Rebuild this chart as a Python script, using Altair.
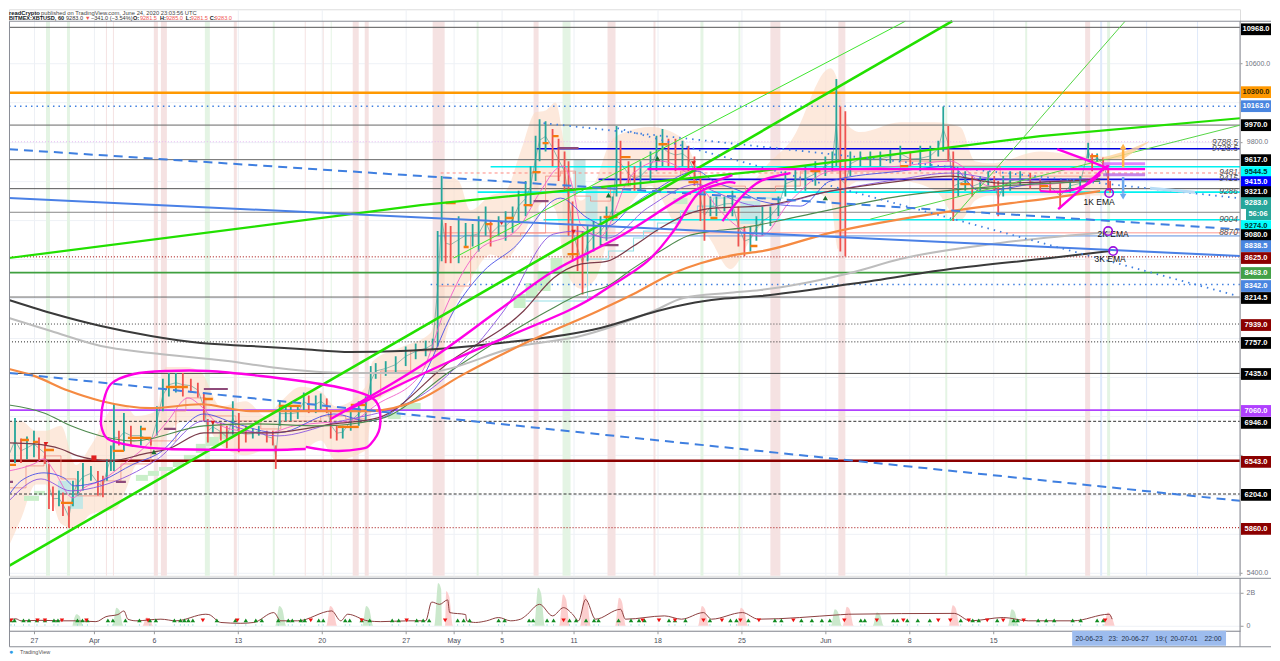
import json
import altair as alt
import pandas as pd

# ---------- axes ----------
tick_hours = [0, 120, 240, 408, 576, 744, 840, 936, 1080, 1248, 1416, 1584, 1752, 1920]
tick_labels = ["27", "Apr", "6", "13", "20", "27", "May", "5", "11", "18", "25", "Jun", "8", "15"]
price_ticks = list(range(5400, 11000, 200))
price_labelled = [5400, 5600, 6000, 6400, 6800, 7200, 7600, 9800, 10400, 10600, 10800]

# ---------- price bars (hours since 27 Mar 00:00) ----------
bar_hour = [-50,-38,-26,-14,0,10,22,30,38,50,58,70,78,88,98,114,128,138,146,154,160,170,180,194,214,234,246,258,270,284,298,314,328,340,348,358,374,386,398,410,424,438,450,466,478,484,492,504,514,528,540,550,564,574,586,594,606,618,634,650,664,674,684,704,724,744,764,784,798,808,816,824,834,850,864,878,890,904,914,930,944,958,970,984,994,1004,1012,1024,1038,1050,1062,1070,1078,1088,1098,1108,1120,1134,1146,1158,1166,1174,1190,1202,1214,1234,1246,1258,1270,1284,1298,1310,1322,1334,1342,1354,1366,1382,1398,1410,1422,1434,1446,1458,1474,1490,1504,1524,1544,1564,1584,1598,1606,1614,1624,1634,1654,1674,1694,1714,1734,1754,1774,1794,1810,1820,1830,1840,1850,1864,1878,1894,1910,1922,1930,1940,1954,1974,1994,2014,2034,2054,2074,2094,2110,2118,2128,2140,2150,2154]
bar_high = [6770,6980,6770,6790,6850,6780,6730,6510,6280,6240,6220,6080,6340,6440,6520,6490,6440,6390,6560,6700,7130,6850,7030,6900,6900,6780,7100,7380,7440,7440,7440,7380,7340,7240,6970,6950,6930,6900,7150,7030,6900,6870,6900,6850,6850,6700,7150,7100,7100,7100,7240,7210,7210,7230,7180,7050,6900,6900,7050,7150,7200,7510,7540,7560,7610,7710,7740,7770,7790,8890,9450,8970,8940,9040,8970,8960,9040,9140,8990,9040,9090,9140,9300,9400,9550,9860,10030,10010,9930,9830,9700,9600,9190,8940,8890,8940,8990,9040,9140,9240,9960,9810,9600,9550,9600,9700,9860,9930,9830,9830,9810,9760,9650,9450,9300,9240,9240,9240,9300,9140,8940,8940,9040,9140,9140,9240,9500,9520,9550,9600,9650,9700,10440,10160,10110,9700,9700,9700,9700,9720,9760,9700,9760,9760,9810,10160,9960,9700,9500,9500,9450,9450,9500,9450,9400,9450,9500,9500,9480,9420,9400,9380,9420,9450,9790,9680,9680,9640,9530,9400]
bar_low = [6440,6520,6520,6560,6580,6560,6510,6050,6030,6080,5980,5860,6080,6190,6240,6340,6190,6170,6340,6440,6440,6700,6640,6700,6700,6700,6800,7050,7200,7240,7200,7240,7190,6950,6730,6830,6750,6670,6810,6630,6730,6770,6800,6730,6700,6460,6900,6950,6950,6970,7050,7030,7030,7070,7030,6770,6750,6770,6850,6900,6950,7200,7380,7410,7440,7510,7580,7610,7670,7710,8580,8560,8560,8560,8720,8730,8680,8840,8730,8840,8790,8870,8990,9040,9140,9400,9600,9700,9550,9400,9300,8840,8580,8480,8240,8580,8680,8730,8790,8990,9240,9350,9350,9300,9300,9400,9500,9550,9550,9500,9550,9500,9350,8990,8790,9040,9040,9090,9040,8730,8630,8680,8790,8840,8940,9040,9240,9300,9300,9350,9450,9500,9550,8680,8630,9450,9550,9550,9550,9580,9600,9550,9500,9550,9650,9700,9600,8990,9240,9300,9240,9300,9350,9300,9040,9240,9300,9350,9320,9300,9280,9120,9280,9300,9630,9500,9600,9500,9300,9280]

# ---------- moving averages ----------
orange_h = [-50,0,68,134,234,334,434,568,668,774,854,994,1128,1200,1280,1334,1408,1454,1594,1834,2034,2134]
orange_p = [7480,7410,7260,7154,7080,7120,7050,7050,7050,7175,7410,7770,8070,8245,8460,8560,8650,8680,8870,9090,9225,9296]
gray_h = [-50,34,134,234,388,488,620,774,974,1094,1240,1300,1388,1454,1634,1734,1934,2154]
gray_p = [8000,7868,7715,7644,7562,7490,7440,7440,7715,7817,8072,8205,8256,8286,8460,8603,8766,8878]
black_h = [-50,34,134,234,334,434,534,634,734,834,934,1134,1248,1308,1374,1454,1634,1834,2034,2154]
black_p = [8185,8052,7919,7817,7745,7715,7684,7654,7664,7695,7745,7899,8072,8143,8194,8225,8347,8500,8613,8684]
dgreen_h = [-50,20,74,134,200,340,440,574,692,834,1028,1094,1148,1200,1254,1308,1360,1414,1534,1734,1934,2134]
dgreen_p = [7113,7032,6900,6797,6746,6900,6920,6900,6970,7460,8072,8245,8327,8510,8684,8837,8888,8918,9041,9245,9347,9398]
maroon_h = [-50,0,54,88,154,220,268,340,468,600,688,834,980,1040,1094,1148,1200,1254,1308,1360,1454,1594,1734,1834,1934,2134]
maroon_p = [6726,6715,6664,6593,6542,6613,6664,6828,6828,6920,6981,7562,8072,8409,8551,8582,8735,8919,9061,9123,9143,9296,9398,9449,9378,9418]
blue_h = [-50,-26,20,60,80,134,200,248,340,400,488,600,668,774,840,900,960,1054,1108,1148,1200,1240,1328,1360,1414,1454,1534,1594,1734,1834,1894,2034,2134]
blue_p = [6195,6338,6420,6369,6287,6338,6511,6613,7021,6930,6828,7021,6950,7358,8072,8480,8715,9225,9021,8939,9163,9296,9500,9398,9296,9194,9143,9398,9500,9551,9296,9398,9418]
purple_h = [-50,14,74,134,248,340,488,600,774,940,1040,1088,1148,1228,1328,1360,1454,1594,1734,1834,1934,2134]
purple_p = [6134,6358,6236,6287,6563,6950,6797,6930,7205,8072,8857,8888,8817,9123,9367,9296,9143,9296,9418,9480,9418,9398]
pink_h = [-50,0,20,40,78,100,134,180,220,268,308,334,368,414,468,520,574,634,688,774,824,860,888,968,1014,1048,1060,1080,1094,1134,1194,1254,1334,1374,1454,1514,1594,1734,1834,1914,2034,2134]
pink_p = [6440,6512,6563,6440,6165,6267,6338,6511,6675,6950,7185,7103,6920,6848,6828,6899,6930,6950,7123,7429,8103,8480,8684,8908,9296,9531,9551,9296,8959,8837,9449,9602,9347,9092,8837,9194,9500,9551,9602,9347,9367,9449]
redstep_h = [-50,-16,20,54,84,134,174,234,284,304,344,404,454,494,574,624,664,694,754,808,874,974,1024,1054,1084,1114,1154,1194,1294,1334,1424,1484,1534,1734,1834,1934,2134]
redstep_p = [6267,6491,6593,6358,6185,6338,6511,6746,7052,7185,7001,6950,6868,6950,7001,6970,7205,7460,7664,8327,8837,8868,9449,9500,9245,9194,9347,9449,9500,9347,9296,9347,9500,9602,9551,9449,9500]
cyanstep_h = [984,1108,1150,1200,1220,1248,1294,1328,1360,1500]
cyanstep_p = [8174,8602,8684,8817,8888,8970,9092,9143,9225,9225]

# ---------- pale cloud ----------
cloud_h = [-50,-26,4,24,54,84,114,164,184,204,244,264,304,334,374,424,464,494,534,574,604,664,678,734,794,804,824,850,874,914,944,974,1004,1024,1044,1064,1094,1124,1154,1184,1234,1294,1344,1394,1434,1474,1514,1594,1610,1624,1654,1734,1804,1854,1884,1914,2014,2114,2154]
cloud_t = [6950,6950,6850,6850,6900,6500,6700,7100,7100,7000,7050,7500,7500,7450,7100,7150,7000,7150,7300,7250,7100,7300,7560,7700,7850,8100,9450,9400,9100,9250,9300,9700,10100,10120,10200,9700,9200,9400,9800,9900,9950,9850,9450,9400,9400,9600,9800,10550,10400,10000,9900,10000,10000,9950,9600,9580,9700,9650,9650]
cloud_b = [5675,5950,6300,6300,5900,5850,6000,6050,6250,6500,6600,6800,6950,6950,6700,6600,6650,6650,6650,6750,6550,6650,7100,7300,7500,7300,7800,8200,8400,8650,8600,8800,9100,9200,9100,8500,8300,8400,8900,9100,9350,8900,8850,8500,8800,9050,9350,9200,8700,9300,9400,9400,9300,9000,9200,9250,9250,9250,9250]

# ---------- pale boxes ----------
gbox_h0 = [-20,0,204,228,250,278,300,324,344,370,708,734,960,984,1008,1034,1280]
gbox_h1 = [10,22,228,250,278,300,324,344,370,398,734,774,984,1008,1034,1058,1308]
gbox_top = [6185,6236,6399,6440,6480,6532,6603,6716,6787,6848,7032,7134,8245,8358,8480,8612,9225]
gbox_bot = [6134,6195,6338,6389,6440,6480,6540,6624,6695,6766,6970,7052,8103,8204,8276,8449,9163]
tbox_h0 = [48,74,1080,1104,1414]
tbox_h1 = [74,98,1104,1128,1454]
tbox_top = [6338,6205,9622,9326,9194]
tbox_bot = [6205,6052,9326,8960,8960]

# ---------- background bands ----------
band_h0 = [24,66,144,158,240,254,342,400,478,542,578,594,638,662,798,886,1000,1058,1148,1240,1334,1410,1474,1610,1824,1984,2104,2148,2134,2226,2328]
band_h1 = [32,72,146,160,248,266,352,406,482,544,580,596,650,670,822,890,1010,1074,1164,1244,1340,1414,1494,1624,1828,1988,2114,2154,2138,2228,2330]
band_c = ["g","g","r","r","r","r","g","r","g","r","r","g","r","r","r","g","r","g","r","r","g","g","r","r","g","g","r","g","b","b","b"]
band_colors = {"r": "#f5e2e2", "g": "#e4f4e4", "b": "#dfe9fa"}

# ---------- horizontal levels ----------
level_value = [10968,10300,10163,9970,9800,9728.5,9617,9544.5,9481,9415,9321,9286,9080,9004,8870,8838.5,8625,8463,8342,8214.5,7939,7757,7435,7060,6946,6543,6204,5860]
level_start = [-50,-50,-50,-50,-50,1006,-50,914,814,1130,-50,888,-50,1020,814,808,-50,-50,794,-50,-50,-50,-50,-50,-50,-50,-50,-50]
level_color = ["#555555","#ff9800","#3f7fe0","#666666","#e6b8f2","#0000e0","#666666","#00f0f0","#ff8a80","#1010e0","#555555","#00f0f0","#888888","#00f0f0","#ff9a90","#5b8fe0","#a00000","#3f9f3f","#3f7fe0","#666666","#444444","#222222","#444444","#b040ff","#333333","#8b0000","#333333","#a00000"]
level_width = [1,2.5,1.6,1,1,1.7,1,1.7,1,1.7,1,1.6,1,1.5,1,1,1,1.7,1.6,1,1,1,1,1.7,1,2.6,1,1]
level_dash = [None,None,[1.5,4],None,[1,2],None,None,None,[3,3],None,None,None,None,None,None,None,[1,2],None,[1.5,4],None,[1,2],[1,2],None,None,[3,2],None,[3,2],[1,2]]

# ---------- trend lines ----------
trend_sets = [
    ([-50,1838],[5471,11030],"#22e000",2.6,None),
    ([840,1744],[8613,11030],"#3fe52f",1,None),
    ([-50,774,1454,2014,2414],[8613,9153,9500,9857,10040],"#22e000",2.2,None),
    ([1834,2184],[8990,11030],"#55d545",1,None),
    ([1674,2414],[9010,9969],"#55d545",1,None),
    ([-50,2414],[9724,8905],"#3f7fe0",2,[9,6]),
    ([-50,2414],[7440,6134],"#3f7fe0",2,[9,6]),
    ([-50,2414],[9225,8633],"#4a80e6",2,None),
    ([1020,2410],[9990,9225],"#3f7fe0",1.8,[1.5,5]),
    ([1168,2410],[9939,8225],"#3f7fe0",1.8,[1.5,5]),
]

# ---------- hand-drawn magenta ----------
magenta_sets = [
    ([134,138,154,200,268,348,454,574,654,688,692,674,654,600,544],[6919,7123,7327,7429,7460,7460,7409,7327,7236,7123,6879,6715,6664,6644,6685]),
    ([134,148,200,268,414,480,544],[6919,6766,6695,6664,6654,6654,6664]),
    ([594,774,928,1040,1174,1308,1398],[6970,7511,8072,8480,8837,9265,9459]),
    ([624,834,1068,1148,1228,1280,1328,1380,1404],[7052,7562,8072,8307,8582,8888,9265,9378,9378]),
    ([1378,1414,1454,1514],[8990,9225,9398,9480]),
    ([1228,2224],[9520,9520]),
    ([2048,2138,2140,2050],[9724,9551,9520,9112]),
    ([2014,2068,2108,2134],[9296,9296,9367,9470]),
]

# ---------- short markers ----------
ostub_h0 = [-50,-26,-2,20,54,158,214,188,264,340,490,608,634,824,860,904,944,980,998,1018,1038,1174,1068,1140,1250,1310,1354,1434,1554,1734,1854,2014,2114]
ostub_h1 = [-36,-10,8,40,78,180,224,234,308,358,534,650,664,844,870,918,960,998,1014,1030,1050,1194,1090,1168,1268,1330,1368,1448,1574,1750,1874,2030,2130]
ostub_p = [6501,6756,6736,6654,6114,6644,6868,6777,7297,7174,7103,6889,7113,9174,8725,8959,9021,9153,9490,9786,9857,9643,8653,9031,9775,9388,9021,8735,9500,9551,9367,9347,9653]
mstub_h0 = [-50,164,260,340,1000,1048,1134]
mstub_h1 = [-42,184,284,388,1030,1090,1170]
mstub_p = [6328,6328,6868,7276,9194,9735,8745]
sig_up_h = [240,1150,1248,1584]
sig_up_p = [6634,9255,9630,9225]
sig_dn_h = [24,358,936,1080,1320]
sig_dn_p = [6715,6930,8970,8880,9580]
sig_sq_h = [120]
sig_sq_p = [6572]

# ---------- notes on the chart ----------
note_text = ["9788.5","9728.5","9481","9415","9286","9004","8870"]
note_price = [9788.5,9728.5,9481,9415,9286,9004,8870]
ema_text = ["1K EMA","2K EMA","3K EMA"]
ema_h = [2132,2160,2154]
ema_p = [9184,8857,8602]
ring_h = [2152,2150,2160]
ring_p = [9276,8888,8684]

# ---------- price tags ----------
tag_text = ["10968.0","10300.0","10163.0","9970.0","9617.0","9544.5","9415.0","9321.0","9283.0","9274.0","9080.0","8838.5","8625.0","8463.0","8342.0","8214.5","7939.0","7757.0","7435.0","7060.0","6946.0","6543.0","6204.0","5860.0"]
tag_pos = [10948,10306,10163,9969,9612,9490,9388,9286,9174,8939,8847,8735,8613,8460,8327,8205,7929,7746,7429,7052,6930,6532,6195,5848]
tag_fill = ["#000000","#ff9800","#4a86e0","#000000","#000000","#00ffff","#0000ff","#000000","#26a69a","#00ffff","#000000","#4a86e0","#8b0000","#43a047","#4a86e0","#000000","#8b0000","#000000","#000000","#b040ff","#000000","#8b0000","#000000","#8b0000"]
tag_ink = ["#ffffff","#3a2a00","#ffffff","#ffffff","#ffffff","#003333","#ffffff","#ffffff","#ffffff","#003333","#ffffff","#ffffff","#ffffff","#ffffff","#ffffff","#ffffff","#ffffff","#ffffff","#ffffff","#ffffff","#ffffff","#ffffff","#ffffff","#ffffff"]

# ---------- volume pane ----------
vol_h = [-50,-36,-26,14,54,84,124,144,168,180,188,204,254,284,344,374,350,414,440,480,494,514,528,596,614,628,668,694,750,784,796,812,828,832,864,866,884,906,930,954,974,984,1012,1038,1060,1078,1090,1104,1124,1174,1184,1262,1296,1340,1356,1418,1450,1614,1630,1842,1874,1940,1990,2080,2152,2158]
vol_v = [0.35,0.42,0.3,0.33,0.3,0.3,0.25,0.55,0.68,0.9,0.4,0.3,0.4,0.3,0.7,0.2,0.68,0.15,0.2,0.8,0.3,0.3,0.3,0.9,0.3,0.7,0.3,0.25,0.3,0.3,1.44,1.3,1.57,0.8,0.68,0.3,0.2,0.3,0.5,0.3,0.4,0.6,1.3,0.6,1.1,0.7,0.3,1.6,0.4,1.0,0.4,0.6,0.4,0.8,0.4,0.8,0.4,0.67,0.7,0.75,0.3,0.5,0.3,0.3,0.7,0.4]
vol_order = sorted(range(len(vol_h)), key=lambda i: vol_h[i])
spike_h = [88,168,494,668,812,1012,1606,1690,1960,228,596,828,1062,1104,1174,1340,1418,1630,1842,2152]
spike_v = [0.7,1.1,1.2,1.2,2.6,2.3,1.0,0.8,1.0,0.5,1.2,2.1,1.9,1.9,1.7,1.2,1.1,1.15,1.25,0.8]
spike_k = ["g","g","g","g","g","g","g","g","g","r","r","r","r","r","r","r","r","r","r","r"]
vol_up = [-46,-39,-21,-10,6,22,40,48,87,97,107,148,158,183,211,232,244,281,293,301,309,318,366,403,424,444,456,489,509,517,534,542,570,579,623,632,656,672,717,730,766,779,791,848,860,872,930,942,991,999,1027,1040,1072,1085,1105,1121,1130,1170,1195,1211,1222,1271,1283,1304,1353,1394,1406,1430,1483,1496,1536,1557,1577,1593,1655,1663,1720,1728,1748,1769,1793,1855,1879,1891,1928,1961,1969,2010,2026,2042,2079,2095,2128,2140]
vol_dn = [-46,7,22,56,105,228,338,407,554,656,746,823,1060,1218,1251,1283,1340,1377,1414,1451,1520,1622,1687,1740,1810,1834,1871,1908,1940,1981,2144]

# ---------- range strip and header ----------
range_text = ["20-06-23","23:","20-06-27","19:(","20-07-01","22:00"]
range_hour = [2112,2160,2204,2256,2302,2360]
header_line = "published on TradingView.com, June 24, 2020 23:03:56 UTC"
header_parts = ["BITMEX:XBTUSD, 60","9283.0","▼","−341.0 (−3.54%)","O:","9281.5","H:","9285.0","L:","9281.5","C:","9283.0"]
header_x = [0,57,76,82,124,131,151,157,177,182,201,206]
header_ink = ["#131722","#333333","#ef5350","#333333","#131722","#ef5350","#131722","#ef5350","#131722","#ef5350","#131722","#ef5350"]

FONT = "Liberation Sans"
H_DOMAIN = [-50, 2414]
P_DOMAIN = [5369, 11152.4]
V_DOMAIN = [-0.303, 2.909]
PANE_W = 1232
PANE_H = 567
FULL_W = 1263
FRAME_P = 11030

xs = alt.Scale(domain=H_DOMAIN, nice=False, zero=False)
ys = alt.Scale(domain=P_DOMAIN, nice=False, zero=False)
vs = alt.Scale(domain=V_DOMAIN, nice=False, zero=False)


def X(f="h"):
    return alt.X(f"{f}:Q", scale=xs, title=None)


def Y(f="p"):
    return alt.Y(f"{f}:Q", scale=ys, title=None)


def VY(f="v"):
    return alt.Y(f"{f}:Q", scale=vs, title=None)


def line(hs, ps, color, width, dash=None, interp="linear", op=1.0):
    df = pd.DataFrame({"h": hs, "p": ps, "i": range(len(hs))})
    kw = dict(color=color, strokeWidth=width, interpolate=interp, opacity=op, clip=True)
    if dash:
        kw["strokeDash"] = dash
    return alt.Chart(df).mark_line(**kw).encode(x=X(), y=Y(), order="i:Q")


def hbox(h0, h1, top, bot, color, op=1.0):
    df = pd.DataFrame({"h": h0, "h2": h1, "p": top, "p2": bot})
    return alt.Chart(df).mark_rect(color=color, opacity=op).encode(
        x=X(), x2="h2:Q", y=Y(), y2="p2:Q")


def stubs(h0, h1, ps, color, width):
    df = pd.DataFrame({"h": h0, "h2": h1, "p": ps})
    return alt.Chart(df).mark_rule(color=color, strokeWidth=width, clip=True).encode(
        x=X(), x2="h2:Q", y=Y())


label_map = {str(k): v for k, v in zip(tick_hours, tick_labels)}
label_expr = json.dumps(label_map) + "[''+datum.value]"
price_label_expr = f"indexof({json.dumps(price_labelled)}, datum.value) >= 0 ? format(datum.value, '.1f') : ''"

# --- grid + axes of the price pane
grid_x = alt.Axis(values=tick_hours, grid=True, gridColor="#edf0f5", labels=False, ticks=False,
                  domain=False, title=None, orient="bottom")
grid_y = alt.Axis(values=price_ticks, grid=True, gridColor="#eef1f6", orient="right", title=None,
                  labelExpr=price_label_expr, labelOverlap=False, labelColor="#6f7380", labelFontSize=7,
                  labelFont=FONT, domain=False, labelAlign="center", labelPadding=15,
                  tickColor="#999999", tickSize=2)
base = alt.Chart(pd.DataFrame({"h": [1000], "p": [8000]})).mark_point(opacity=0).encode(
    x=alt.X("h:Q", scale=xs, axis=grid_x), y=alt.Y("p:Q", scale=ys, axis=grid_y))

layers = [base]

# bands
for key, col in band_colors.items():
    idx = [i for i, c in enumerate(band_c) if c == key]
    layers.append(hbox([band_h0[i] for i in idx], [band_h1[i] for i in idx],
                       [FRAME_P] * len(idx), [P_DOMAIN[0]] * len(idx), col))

# cloud
layers.append(alt.Chart(pd.DataFrame({"h": cloud_h, "p": cloud_t, "p2": cloud_b})).mark_area(
    color="#fcdcc6", opacity=0.62, interpolate="monotone", clip=True).encode(x=X(), y=Y(), y2="p2:Q"))

layers.append(hbox(gbox_h0, gbox_h1, gbox_top, gbox_bot, "#c9efc9"))
layers.append(hbox(tbox_h0, tbox_h1, tbox_top, tbox_bot, "#c4e7e6"))

# levels
for v, s, c, w, d in zip(level_value, level_start, level_color, level_width, level_dash):
    kw = dict(color=c, strokeWidth=w, clip=True)
    if d:
        kw["strokeDash"] = d
    layers.append(alt.Chart(pd.DataFrame({"h": [s], "h2": [H_DOMAIN[1]], "p": [v]})).mark_rule(**kw).encode(
        x=X(), x2="h2:Q", y=Y()))

# step outlines
layers.append(line(redstep_h, redstep_p, "#f08a7e", 0.9, interp="step-after", op=0.85))
layers.append(line(cyanstep_h, cyanstep_p, "#96dfe6", 1.1, interp="step-after"))

# bars
mids = [(a + b) / 2 for a, b in zip(bar_high, bar_low)]
bar_color = ["#26a69a" if i == 0 or mids[i] >= mids[i - 1] else "#ef5350" for i in range(len(mids))]
bars = pd.DataFrame({"h": bar_hour, "p": bar_high, "p2": bar_low, "c": bar_color, "m": mids})
layers.append(alt.Chart(bars).mark_line(color="#3d8f88", strokeWidth=0.7, opacity=0.8, clip=True).encode(x=X(), y=Y("m")))
layers.append(alt.Chart(bars).mark_rule(strokeWidth=1.8, clip=True).encode(
    x=X(), y=Y(), y2="p2:Q", color=alt.Color("c:N", scale=None)))

# moving averages
layers.append(line(pink_h, pink_p, "#f060c8", 0.9, interp="monotone"))
layers.append(line(blue_h, blue_p, "#4a50e8", 0.9, interp="monotone"))
layers.append(line(purple_h, purple_p, "#8a55e0", 0.9, interp="monotone"))
layers.append(line(maroon_h, maroon_p, "#7a3b4a", 1.2, interp="monotone"))
layers.append(line(dgreen_h, dgreen_p, "#4f8a4f", 1.1, interp="monotone"))
layers.append(line(gray_h, gray_p, "#bdbdbd", 2, interp="monotone"))
layers.append(line(black_h, black_p, "#3a3a3a", 2, interp="monotone"))
layers.append(line(orange_h, orange_p, "#f58a42", 2.2, interp="monotone"))

# stubs and signals
layers.append(stubs(ostub_h0, ostub_h1, ostub_p, "#f47b0f", 2.4))
layers.append(stubs(mstub_h0, mstub_h1, mstub_p, "#8e4a7a", 2.2))
layers.append(alt.Chart(pd.DataFrame({"h": sig_up_h, "p": sig_up_p})).mark_point(
    shape="triangle-up", filled=True, color="#1b6e2d", size=28, opacity=1).encode(x=X(), y=Y()))
layers.append(alt.Chart(pd.DataFrame({"h": sig_dn_h, "p": sig_dn_p})).mark_point(
    shape="triangle-down", filled=True, color="#e02020", size=22, opacity=1).encode(x=X(), y=Y()))
layers.append(alt.Chart(pd.DataFrame({"h": sig_sq_h, "p": sig_sq_p})).mark_point(
    shape="square", filled=True, color="#e02020", size=26, opacity=1).encode(x=X(), y=Y()))

# trends
for hs, ps, c, w, d in trend_sets:
    layers.append(line(hs, ps, c, w, dash=d))

# magenta
for n, (hs, ps) in enumerate(magenta_sets):
    layers.append(line(hs, ps, "#ff00e6", 2.4, interp="cardinal" if n != 5 else "linear"))
layers.append(line([2140, 2224], [9575, 9575], "#d050ff", 3, op=0.7))
layers.append(line([2140, 2224], [9464, 9464], "#b050e0", 3, op=0.7))

# orange/blue arrows and shaded wedge
layers.append(alt.Chart(pd.DataFrame({"h": [2140, 2182, 2230], "p": [9640, 9700, 9800], "p2": [9620, 9630, 9790]})).mark_area(
    color="#ffd29a", opacity=0.8).encode(x=X(), y=Y(), y2="p2:Q"))
layers.append(line([2180, 2180], [9540, 9720], "#ffb347", 2.5))
layers.append(alt.Chart(pd.DataFrame({"h": [2180], "p": [9750]})).mark_point(
    shape="triangle-up", filled=True, color="#ffb347", size=45, opacity=1).encode(x=X(), y=Y()))
layers.append(line([2180, 2180], [9440, 9270], "#6fa8ee", 2.5))
layers.append(alt.Chart(pd.DataFrame({"h": [2180], "p": [9240]})).mark_point(
    shape="triangle-down", filled=True, color="#6fa8ee", size=45, opacity=1).encode(x=X(), y=Y()))
layers.append(line([2234, 2324], [9325, 9285], "#b6dcf5", 3))

# notes
layers.append(alt.Chart(pd.DataFrame({"t": note_text, "p": note_price})).mark_text(
    align="right", font=FONT, fontSize=8.5, fontStyle="italic", color="#555555", dy=-1).encode(
    x=alt.value(PANE_W - 2), y=Y(), text="t:N"))
layers.append(alt.Chart(pd.DataFrame({"t": ema_text, "h": ema_h, "p": ema_p})).mark_text(
    font=FONT, fontSize=8.5, color="#111111").encode(x=X(), y=Y(), text="t:N"))
layers.append(alt.Chart(pd.DataFrame({"h": ring_h, "p": ring_p})).mark_point(
    shape="circle", color="#9a10e0", strokeWidth=1.6, size=70, opacity=1).encode(x=X(), y=Y()))

# frame
layers.append(alt.Chart(pd.DataFrame({"p": [FRAME_P]})).mark_rule(color="#8a8d96", strokeWidth=1).encode(
    x=alt.value(0.5), x2=alt.value(FULL_W), y=Y()))
layers.append(alt.Chart(pd.DataFrame({"p": [FRAME_P], "p2": [P_DOMAIN[0]]})).mark_rule(color="#8a8d96", strokeWidth=1).encode(
    x=alt.value(0.5), y=Y(), y2="p2:Q"))
layers.append(alt.Chart(pd.DataFrame({"p": [FRAME_P], "p2": [P_DOMAIN[0]]})).mark_rule(color="#8a8d96", strokeWidth=1).encode(
    x=alt.value(PANE_W), y=Y(), y2="p2:Q"))

# tags
tag_half = 60
tags = pd.DataFrame({"t": tag_text, "p": [v + tag_half for v in tag_pos], "p2": [v - tag_half for v in tag_pos],
                     "m": tag_pos, "f": tag_fill, "k": tag_ink})
layers.append(alt.Chart(tags).mark_rect().encode(
    x=alt.value(PANE_W + 1), x2=alt.value(FULL_W), y=Y(), y2="p2:Q", fill=alt.Fill("f:N", scale=None)))
layers.append(alt.Chart(pd.DataFrame({"p": [9121], "p2": [9001]})).mark_rect(fill="#26a69a").encode(
    x=alt.value(PANE_W + 6), x2=alt.value(FULL_W), y=Y(), y2="p2:Q"))
layers.append(alt.Chart(pd.DataFrame({"t": ["56:06"], "p": [9061]})).mark_text(
    font=FONT, fontSize=7.5, fontWeight=600, color="#ffffff").encode(x=alt.value(PANE_W + 18), y=Y(), text="t:N"))
layers.append(alt.Chart(tags).mark_text(font=FONT, fontSize=7.5, fontWeight=600).encode(
    x=alt.value(PANE_W + 16), y=Y("m"), text="t:N", color=alt.Color("k:N", scale=None)))

# header
layers.append(alt.Chart(pd.DataFrame({"t": ["readCrypto"]})).mark_text(
    font=FONT, fontSize=5.8, fontWeight="bold", align="left", baseline="alphabetic", color="#131722").encode(
    x=alt.value(0), y=alt.value(5.5), text="t:N"))
layers.append(alt.Chart(pd.DataFrame({"t": [header_line]})).mark_text(
    font=FONT, fontSize=5.8, align="left", baseline="alphabetic", color="#444444").encode(
    x=alt.value(32), y=alt.value(5.5), text="t:N"))
for t, hx, ink, i in zip(header_parts, header_x, header_ink, range(len(header_parts))):
    layers.append(alt.Chart(pd.DataFrame({"t": [t]})).mark_text(
        font=FONT, fontSize=5.6, align="left", baseline="alphabetic", color=ink,
        fontWeight="bold" if i in (0, 4, 6, 8, 10) else "normal").encode(
        x=alt.value(hx), y=alt.value(11), text="t:N"))

price_pane = alt.layer(*layers).properties(width=PANE_W, height=PANE_H)

# ---------- volume pane ----------
vx_axis = alt.Axis(values=tick_hours, labelExpr=label_expr, grid=True, gridColor="#edf0f5", title=None,
                   labelColor="#4a4e59", labelFontSize=7, labelFont=FONT, tickColor="#999999", tickSize=3,
                   domainColor="#8a8d96", labelPadding=3, orient="bottom")
vy_axis = alt.Axis(values=[0, 2], labelExpr="datum.value == 2 ? '2B' : '0'", grid=True, gridColor="#eef1f6",
                   orient="right", title=None, labelColor="#6f7380", labelFontSize=7, labelFont=FONT,
                   domain=False, tickColor="#999999", tickSize=3, labelAlign="left", labelPadding=3)
vbase = alt.Chart(pd.DataFrame({"h": [1000], "v": [1.0]})).mark_point(opacity=0).encode(
    x=alt.X("h:Q", scale=xs, axis=vx_axis), y=alt.Y("v:Q", scale=vs, axis=vy_axis))

vlayers = [vbase]
spike_rows = []
for n, (h, v, k) in enumerate(zip(spike_h, spike_v, spike_k)):
    for dh, vv in ((-11, 0), (-3, v), (3, v * 0.85), (11, 0)):
        spike_rows.append({"h": h + dh, "v": vv, "id": n, "k": k})
vlayers.append(alt.Chart(pd.DataFrame(spike_rows)).mark_area(interpolate="monotone", opacity=0.9, clip=True).encode(
    x=X(), y=VY(), detail="id:N",
    color=alt.Color("k:N", scale=alt.Scale(domain=["g", "r"], range=["#c5e6c7", "#fcc9c9"]), legend=None)))
vlayers.append(alt.Chart(pd.DataFrame({"h": vol_up, "v": [0.0] * len(vol_up), "v2": [0.1] * len(vol_up)})).mark_rule(
    color="#7fd6d0", strokeWidth=0.7, clip=True).encode(x=X(), y=VY(), y2="v2:Q"))
vlayers.append(alt.Chart(pd.DataFrame({"h": [vol_h[i] for i in vol_order], "v": [vol_v[i] for i in vol_order]})).mark_line(
    color="#8c3f3f", strokeWidth=1, interpolate="monotone", clip=True).encode(x=X(), y=VY()))
vlayers.append(alt.Chart(pd.DataFrame({"h": vol_up, "v": [0.33] * len(vol_up)})).mark_point(
    shape="triangle-up", filled=True, color="#0f8a1f", size=20, opacity=1, clip=True).encode(x=X(), y=VY()))
vlayers.append(alt.Chart(pd.DataFrame({"h": vol_dn, "v": [0.33] * len(vol_dn)})).mark_point(
    shape="triangle-down", filled=True, color="#f01010", size=20, opacity=1, clip=True).encode(x=X(), y=VY()))

# pane frame
vlayers.append(alt.Chart(pd.DataFrame({"v": [V_DOMAIN[1]]})).mark_rule(color="#8a8d96", strokeWidth=1).encode(
    x=alt.value(0.5), x2=alt.value(FULL_W), y=alt.value(0.5)))
vlayers.append(alt.Chart(pd.DataFrame({"h": [H_DOMAIN[0]]})).mark_rule(color="#8a8d96", strokeWidth=1).encode(
    x=alt.value(0.5), y=alt.value(0.5), y2=alt.value(69)))
vlayers.append(alt.Chart(pd.DataFrame({"h": [H_DOMAIN[1]]})).mark_rule(color="#8a8d96", strokeWidth=1).encode(
    x=alt.value(PANE_W), y=alt.value(0.5), y2=alt.value(69)))
vlayers.append(alt.Chart(pd.DataFrame({"h": [H_DOMAIN[0]]})).mark_rule(color="#8a8d96", strokeWidth=1).encode(
    x=alt.value(0.5), x2=alt.value(FULL_W), y=alt.value(69)))

# range strip
vlayers.append(alt.Chart(pd.DataFrame({"h": [2078], "h2": [2386]})).mark_rect(color="#9dbcee").encode(
    x=X(), x2="h2:Q", y=alt.value(53), y2=alt.value(68)))
vlayers.append(alt.Chart(pd.DataFrame({"t": range_text, "h": range_hour})).mark_text(
    font=FONT, fontSize=6.8, color="#22304a").encode(x=X(), y=alt.value(61), text="t:N"))

# logo
vlayers.append(alt.Chart(pd.DataFrame({"t": ["●"]})).mark_text(
    font=FONT, fontSize=7, color="#2e9be6", align="left").encode(x=alt.value(0), y=alt.value(74), text="t:N"))
vlayers.append(alt.Chart(pd.DataFrame({"t": ["TradingView"]})).mark_text(
    font=FONT, fontSize=5.5, align="left", color="#555555").encode(x=alt.value(11), y=alt.value(74), text="t:N"))

volume_pane = alt.layer(*vlayers).properties(width=PANE_W, height=53)

chart = alt.vconcat(price_pane, volume_pane, spacing=0).properties(padding=0).configure_view(
    stroke=None).resolve_scale(x="independent", y="independent").configure(background="#ffffff")

chart.save("out.html", embed_options={"renderer": "svg", "actions": False})
